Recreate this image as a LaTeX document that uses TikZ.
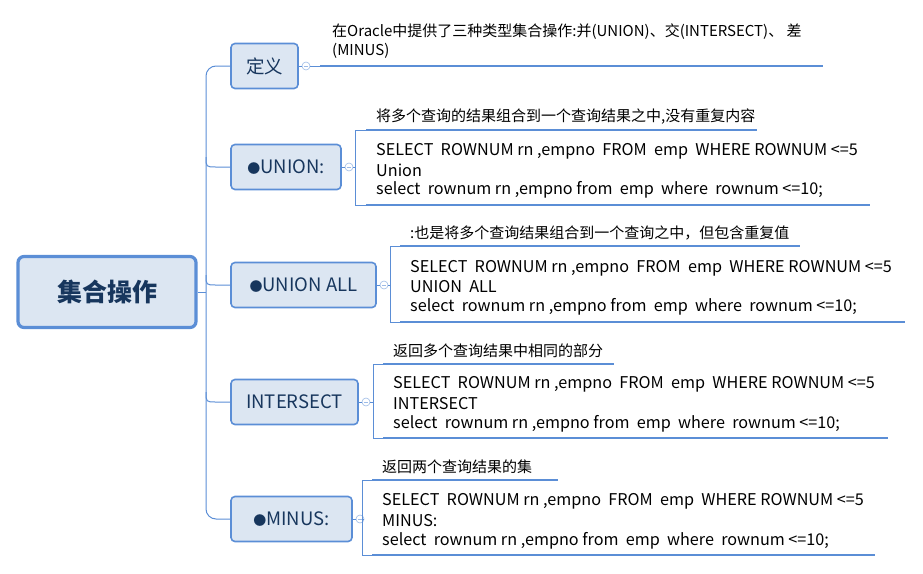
\documentclass[tikz,border=0pt]{standalone}
\usepackage{fontspec}
\setmainfont{Noto Sans CJK SC}
\newcommand{\bul}{{\fontsize{13}{13}\selectfont ●}}
\begin{document}
\begin{tikzpicture}[x=1pt,y=-1pt,
  lc/.style={draw=lineblue, line width=1pt},
  thick/.style={draw=lineblue, line width=2.6pt},
  box/.style={draw=boxblue, fill=boxfill, line width=1.6pt, rounded corners=4pt, minimum height=45pt, font=\fontsize{18.5}{20}\selectfont, text=textdark, inner sep=0pt},
  circ/.style={circle, draw=lineblue!60, fill=white, line width=0.6pt, minimum size=8pt, inner sep=0pt},
  txt/.style={anchor=west, inner sep=0pt, font=\fontsize{15}{17}\selectfont, text=black},
  code/.style={anchor=west, inner sep=0pt, font=\fontsize{16.2}{18}\selectfont, text=black}]
\definecolor{lineblue}{HTML}{5B8ED6}
\definecolor{boxblue}{HTML}{5B8ED6}
\definecolor{boxfill}{HTML}{DCE6F2}
\definecolor{textdark}{HTML}{17365D}
\useasboundingbox (0,0) rectangle (923,573);
% root
\node[box, line width=3.2pt, minimum width=178pt, minimum height=71pt, rounded corners=6pt, font=\fontsize{25}{28}\bfseries\selectfont] (root) at (107,292) {集合操作};
% branches
\node[box, minimum width=67pt] (b1) at (264.5,66) {定义};
\node[box, minimum width=110pt] (b2) at (286,167) {\bul UNION:};
\node[box, minimum width=145pt] (b3) at (303.5,285) {\bul UNION ALL};
\node[box, minimum width=127pt] (b4) at (294.5,402) {INTERSECT};
\node[box, minimum width=121pt] (b5) at (291.5,519) {\bul MINUS:};
% trunk
\coordinate (t1) at (206,66); \coordinate (t5) at (206,519);
\draw[lc, rounded corners=10pt] (b1.west) -- (t1) -- (t5) -- (b5.west);
\draw[lc] (root.east) -- (206,292);
\foreach \b/\y in {b2/167,b3/285,b4/402}{
  \draw[lc] (206,\y-10) .. controls (206,\y) .. (216,\y) -- (\b.west);
}
% collapse circles
\node[circ] (c1) at (306,66) {};
\node[circ] (c2) at (349,167) {};
\node[circ] (c3) at (384,285) {};
\node[circ] (c4) at (366,402) {};
\node[circ] (c5) at (360,519) {};
\foreach \c in {c1,c2,c3,c4,c5}{\draw[lineblue!60, line width=0.6pt] ([xshift=-2.2pt]\c.center) -- ([xshift=2.2pt]\c.center);}
\draw[lc] (b1.east) -- (c1.west);
\draw[lc] (b2.east) -- (c2.west);
\draw[lc] (b3.east) -- (c3.west);
\draw[lc] (b4.east) -- (c4.west);
\draw[lc] (b5.east) -- (c5.west);
% 定义
\coordinate (d0) at (320,66); \coordinate (d1) at (823,66);
\draw[lc] (c1.east) -- (d0);
\draw[thick] (d0) -- (d1);
\node[txt] (d1a) at (332,32) {在Oracle中提供了三种类型集合操作:并(UNION)、交(INTERSECT)、 差};
\node[txt] (d1b) at (332,51) {(MINUS)};
% union
\draw[lc] (c2.east) -- (355,167);
\draw[lc] (366,130) -- (355,130) -- (355,205) -- (366,205);
\draw[thick] (366,130) -- (757,130);
\draw[thick] (366,205) -- (870,205);
\node[txt] (u0) at (376,117) {将多个查询的结果组合到一个查询结果之中,没有重复内容};
\node[code] (u1) at (376,151) {SELECT\ \ ROWNUM rn ,empno\ \ FROM\ \ emp\ \ WHERE ROWNUM <=5};
\node[code] (u2) at (376,170) {Union};
\node[code] (u3) at (376,190) {select\ \ rownum rn ,empno from\ \ emp\ \ where\ \ rownum <=10;};
% union all
\draw[lc] (c3.east) -- (390,285);
\draw[lc] (400,246) -- (390,246) -- (390,322) -- (400,322);
\draw[thick] (400,246) -- (800,246);
\draw[thick] (400,322) -- (905,322);
\node[txt] (a0) at (410,233) {:也是将多个查询结果组合到一个查询之中，但包含重复值};
\node[code] (a1) at (410,268) {SELECT\ \ ROWNUM rn ,empno\ \ FROM\ \ emp\ \ WHERE ROWNUM <=5};
\node[code] (a2) at (410,287) {UNION\ \ ALL};
\node[code] (a3) at (410,307) {select\ \ rownum rn ,empno from\ \ emp\ \ where\ \ rownum <=10;};
% intersect
\draw[lc] (c4.east) -- (373,402);
\draw[lc] (383,364) -- (373,364) -- (373,438) -- (383,438);
\draw[thick] (383,364) -- (614,364);
\draw[thick] (383,438) -- (888,438);
\node[txt] (i0) at (393,351) {返回多个查询结果中相同的部分};
\node[code] (i1) at (393,384) {SELECT\ \ ROWNUM rn ,empno\ \ FROM\ \ emp\ \ WHERE ROWNUM <=5};
\node[code] (i2) at (393,404) {INTERSECT};
\node[code] (i3) at (393,424) {select\ \ rownum rn ,empno from\ \ emp\ \ where\ \ rownum <=10;};
% minus
\draw[lc] (c5.east) -- (362,519);
\draw[lc] (372,480) -- (362,480) -- (362,555) -- (372,555);
\draw[thick] (372,480) -- (558,480);
\draw[thick] (372,555) -- (875,555);
\node[txt] (m0) at (382,467) {返回两个查询结果的集};
\node[code] (m1) at (382,501) {SELECT\ \ ROWNUM rn ,empno\ \ FROM\ \ emp\ \ WHERE ROWNUM <=5};
\node[code] (m2) at (382,521) {MINUS:};
\node[code] (m3) at (382,541) {select\ \ rownum rn ,empno from\ \ emp\ \ where\ \ rownum <=10;};
\end{tikzpicture}
\end{document}
